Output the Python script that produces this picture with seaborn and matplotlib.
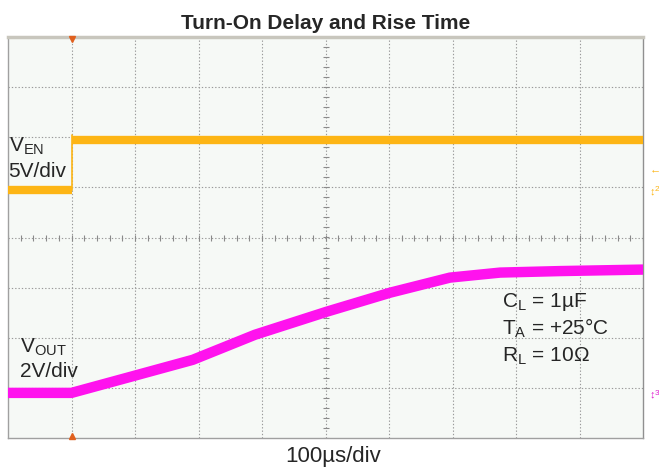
import numpy as np
import pandas as pd
import matplotlib
matplotlib.use("Agg")
import matplotlib.pyplot as plt
import seaborn as sns

# scope settings (10 div x 8 div screen)
time_per_div = 100      # us
ven_scale = 5           # V/div
vout_scale = 2          # V/div
ven_offset = 0.94       # div, ground marker of CH2
vout_offset = -3.1      # div, ground marker of CH3

# V_EN trace, low part and high part
ven_t = [0, 100, 100, 1000]
ven_v = [0, 0, 5, 5]
ven_seg = ['low', 'low', 'high', 'high']

# V_OUT trace
vout_t = [0, 100, 187, 291, 389, 502, 602, 696, 775, 869, 1000]
vout_v = [0, 0, 0.6, 1.32, 2.32, 3.24, 4.0, 4.6, 4.8, 4.86, 4.92]

title = "Turn-On Delay and Rise Time"
xlabel = "100µs/div"
notes = [r"C$_\mathregular{L}$ = 1µF", r"T$_\mathregular{A}$ = +25°C", r"R$_\mathregular{L}$ = 10Ω"]

sns.set_style("white")
plt.rcParams['font.family'] = ['Liberation Sans', 'DejaVu Sans']
plt.rcParams['mathtext.fontset'] = 'custom'
plt.rcParams['mathtext.rm'] = 'Liberation Sans'

df_en = pd.DataFrame({'t': ven_t, 'div': np.array(ven_v) / ven_scale + ven_offset, 'seg': ven_seg})
df_out = pd.DataFrame({'t': vout_t, 'div': np.array(vout_v) / vout_scale + vout_offset})

fig = plt.figure(figsize=(6.59, 4.72), dpi=100)
ax = fig.add_axes([8 / 659, 34 / 472, 635 / 659, 401 / 472])
ax.set_facecolor('#F6F9F6')

# grid
for i in range(1, 10):
    ax.axvline(i * time_per_div, color='#9a9a9a', lw=0.8, ls=(0, (1.2, 1.8)), zorder=1)
for j in range(-3, 4):
    ax.axhline(j, color='#9a9a9a', lw=0.8, ls=(0, (1.2, 1.8)), zorder=1)
# minor ticks on the centre lines
mx = np.arange(0, 1000.1, 20)
ax.plot(mx, np.zeros_like(mx), ls='none', marker='|', ms=4, color='#8a8a8a', mew=0.8, zorder=1)
my = np.arange(-4, 4.01, 0.2)
ax.plot(np.full_like(my, 500), my, ls='none', marker='_', ms=4, color='#8a8a8a', mew=0.8, zorder=1)

sns.lineplot(data=df_en, x='t', y='div', units='seg', ax=ax, color='#FDB515', lw=6,
             estimator=None, sort=False, solid_capstyle='butt', zorder=3)
sns.lineplot(data=df_out, x='t', y='div', ax=ax, color='#FF12EE', lw=7.5,
             estimator=None, sort=False, zorder=3)
# thin edge where the enable step happens
ax.plot([100, 100], [ven_offset, ven_offset + 1.1], color='#FDB515', lw=1.2, zorder=3)

# trigger position markers
ax.plot([100], [3.97], marker='v', color='#E0601E', ms=4, clip_on=False, zorder=4)
ax.plot([100], [-3.97], marker='^', color='#E0601E', ms=4, clip_on=False, zorder=4)

ax.set_xlim(0, 1000)
ax.set_ylim(-4, 4)
ax.set_xticks([])
ax.set_yticks([])
for s in ax.spines.values():
    s.set_color('#a0a0a0')
    s.set_linewidth(1.0)
ax.spines['right'].set_color('#909090')
ax.spines['top'].set_color('#c8c6bd')
ax.spines['top'].set_linewidth(2.5)

# channel labels
fs = 15
ax.text(1, 1.72, r"V$_\mathregular{EN}$", fontsize=fs, ha='left', va='baseline')
ax.text(1, 1.2, "5V/div", fontsize=fs, ha='left', va='baseline')
ax.text(19, -2.3, r"V$_\mathregular{OUT}$", fontsize=fs, ha='left', va='baseline')
ax.text(19, -2.78, "2V/div", fontsize=fs, ha='left', va='baseline')
for k, txt in enumerate(notes):
    ax.text(778, -1.38 - 0.55 * k, txt, fontsize=fs, ha='left', va='baseline')

# right side level markers
ax.text(1010, 1.36, "←", color='#FDB515', fontsize=8, ha='left', va='center', clip_on=False)
ax.text(1010, 0.92, "↕", color='#FDB515', fontsize=8, ha='left', va='center', clip_on=False)
ax.text(1019, 0.95, "2", color='#FDB515', fontsize=6, ha='left', va='center', clip_on=False)
ax.text(1010, -3.14, "↕", color='#E020D0', fontsize=8, ha='left', va='center', clip_on=False)
ax.text(1019, -3.11, "3", color='#E020D0', fontsize=6, ha='left', va='center', clip_on=False)

ax.set_title(title, fontsize=15, fontweight='bold', pad=6)
ax.set_xlabel(xlabel, fontsize=16, labelpad=4)
ax.xaxis.set_label_coords(0.512, -0.02)
ax.xaxis.label.set_verticalalignment('top')
ax.set_ylabel('')
legend = ax.get_legend()
if legend is not None:
    legend.remove()

fig.savefig('out.png', dpi=100)
